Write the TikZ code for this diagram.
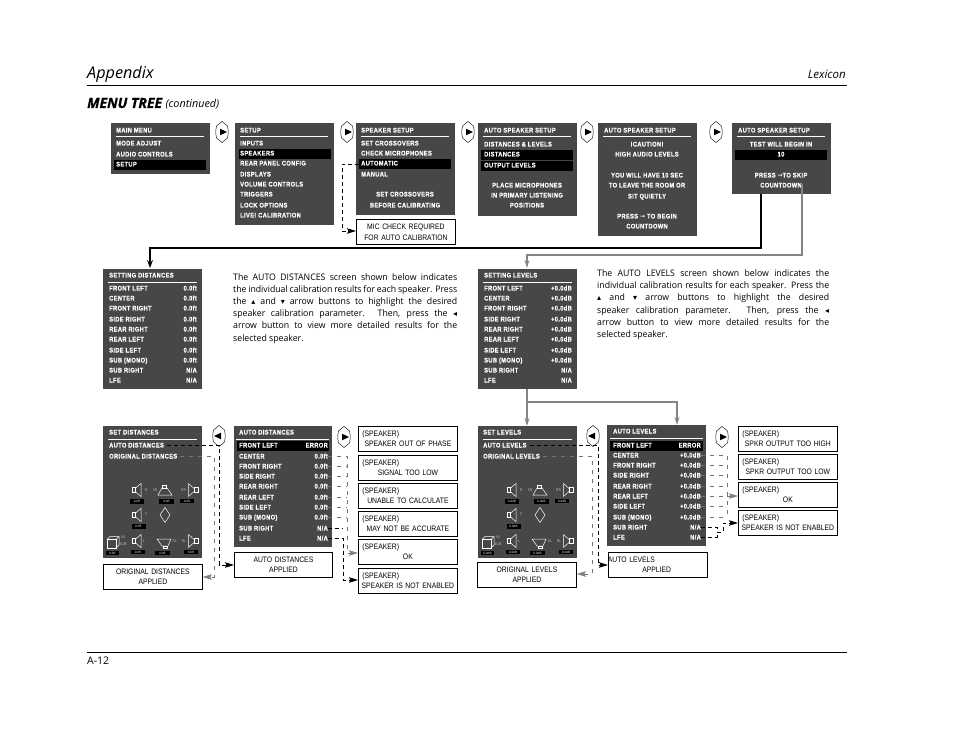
\documentclass[tikz,border=0pt]{standalone}
\usepackage{fontspec}
\usetikzlibrary{
	arrows.meta,
	positioning,
	calc
}
\setmainfont{Open Sans}
\newfontfamily\bodyfam[FakeStretch=0.97]{Open Sans}
\newfontfamily\menufam[FakeStretch=0.86,LetterSpace=5.0,FakeBold=0.35]{Liberation Sans Bold}
\newfontfamily\boxfam[FakeStretch=0.86]{Liberation Sans}
\newfontfamily\headfam[FakeBold=0.8]{Open Sans Bold Italic}
\newfontfamily\symfam{DejaVu Sans}
\newcommand{\upk}{{\symfam\fontsize{8}{8}\selectfont ▴}}
\newcommand{\dnk}{{\symfam\fontsize{8}{8}\selectfont ▾}}
\newcommand{\ltk}{{\symfam\fontsize{8}{8}\selectfont ◂}}
\newcommand{\rtk}{{\symfam\bfseries\fontsize{6}{6}\selectfont →}}
\newcommand{\spkmsg}[1]{(SPEAKER)\\\makebox[91pt]{#1}}
\hyphenpenalty=10000

\begin{document}
\begin{tikzpicture}[
			x=1pt, y=-1pt,
			>=Stealth,
			panel/.style={fill=black!72, anchor=north west, inner sep=0pt, minimum width=99pt},
			hl/.style={fill=black, anchor=north west, inner sep=0pt, minimum width=92pt, minimum height=10pt},
			mtxt/.style={font=\menufam\fontsize{6.7}{7}\selectfont, text=white, inner sep=0pt, text height=5pt, text depth=0pt},
			ml/.style={mtxt, anchor=west},
			mr/.style={mtxt, anchor=east},
			mc/.style={mtxt, anchor=center},
			rule/.style={draw=white, line width=0.8pt},
			msgbox/.style={draw, line width=0.8pt, fill=white, anchor=north west, inner sep=0pt, minimum width=99pt, minimum height=24.5pt},
			msgl/.style={msgbox, font=\boxfam\fontsize{7.9}{10.8}\selectfont, align=left, text width=91pt},
			msgc/.style={msgbox, font=\boxfam\fontsize{7.9}{10.8}\selectfont, align=center, text width=95pt},
			fl/.style={->, line width=1.1pt},
			flg/.style={line width=1.1pt, draw=black!48, -{Stealth[length=8pt,width=5pt,black!48]}},
			dk/.style={line width=0.9pt, dash pattern=on 4pt off 3pt},
			dkt/.style={dk, -{Stealth[length=9pt,width=5.5pt,inset=1.5pt]}},
			dg/.style={line width=0.6pt, draw=black!55, dash pattern=on 4pt off 5pt},
			dgt/.style={dg, -{Stealth[length=9pt,width=5.5pt,inset=1.5pt,black!50]}},
			spkbar/.style={fill=black, text=white, inner sep=0pt, minimum height=4.5pt, font=\fontsize{3}{3}\selectfont},
			spktag/.style={text=black!25, inner sep=0pt, font=\fontsize{3.8}{3.8}\selectfont},
			body/.style={anchor=north west, inner sep=0pt, align=justify, font=\bodyfam\fontsize{9}{12.2}\selectfont},
			btn/.pic={
				\draw[line width=0.4pt] (0,-10.5) -- (5.5,-6) .. controls (6.5,0) .. (5.5,6) -- (0,10.5) -- (-5.5,6) .. controls (-6.5,0) .. (-5.5,-6) -- cycle;
				\fill (-2,-3.3) -- (5,0) -- (-2,3.3) -- cycle;
			},
			spkset/.pic={
				\begin{scope}[draw=white, line width=0.5pt]
				\foreach \sy in {64,89,115} {
					\draw (29.5,\sy-2.5) rectangle (32,\sy+2.5);
					\draw (32,\sy-1.5) -- (38,\sy-6.5) -- (38,\sy+6.5) -- (32,\sy+1.5);
				}
				\foreach \sy in {64,115} {
					\draw (91,\sy-1.5) -- (85.5,\sy-6.5) -- (85.5,\sy+6.5) -- (91,\sy+1.5);
					\draw (91,\sy-2.5) rectangle (95,\sy+2.5);
				}
				\draw (55,69) -- (69,69) -- (64,62) -- (59,62) -- cycle;
				\draw (59.5,59) rectangle (63.5,62);
				\draw (54,113) -- (68,113) -- (65,120) -- (59,120) -- cycle;
				\draw (60,120) rectangle (64,122);
				\draw (62,81.5) -- (67,89) -- (62,96.5) -- (57,89) -- cycle;
				\draw (4,113.5) rectangle (13,122);
				\draw (4,113.5) -- (7,110.5) -- (16,110.5) -- (16,119) -- (13,122);
				\draw (13,113.5) -- (16,110.5);
				\end{scope}
				\foreach \bx/\by/\bw [count=\i] in {34/75.5/14, 63.5/75.5/15, 84/75/14, 35.5/100.5/14, 35/126/14, 59.5/127/15, 88/126/14, 9.5/127/13} {
					\node[spkbar, minimum width=\bw pt] (bar\i) at (\bx,\by) {#1};
				}
				\foreach \tx/\ty/\tl [count=\i] in {43/64/R, 52/64/SR, 80.5/64/RR, 43/88/C, 41/115/L, 72/115/SL, 81/115/RL, 20/111/M, 20/118/SUB} {
					\node[spktag] (tag\i) at (\tx,\ty) {\tl};
				}
			}
		]
	\useasboundingbox (0,0) rectangle (954,738);

	% page head and foot
	\node[anchor=base west, inner sep=0pt, font=\itshape\fontsize{16.2}{18}\selectfont] (head) at (87,79) {Appendix};
	\node[anchor=base east, inner sep=0pt, font=\itshape\fontsize{11.5}{13}\selectfont] (lex) at (846,79) {Lexicon};
	\draw[line width=0.7pt] (87,85) -- (847,85);
	\node[anchor=base west, inner sep=0pt, font=\headfam\fontsize{14}{15}\selectfont] (tree) at (87,108) {MENU TREE};
	\node[right=3pt of tree.base east, anchor=base west, inner sep=0pt, font=\itshape\fontsize{10.8}{12}\selectfont] (cont) {(continued)};
	\draw[line width=0.7pt] (87,652) -- (847,652);
	\node[anchor=base west, inner sep=0pt, font=\fontsize{10.5}{12}\selectfont] (page) at (87,664) {A-12};

	% first row of screens
	\node[panel, minimum height=51pt] (mm) at (111,123) {};
	\node[panel, minimum height=102pt] (su) at (235,123) {};
	\node[panel, minimum height=92pt] (ss) at (356,123) {};
	\node[panel, minimum height=93pt] (as1) at (478,123) {};
	\node[panel, minimum height=113pt] (as2) at (598,123) {};
	\node[panel, minimum height=71pt] (as3) at (732,123) {};
	\foreach \p in {mm,su,ss,as1,as2,as3} {
		\draw[rule] ([xshift=5pt,yshift=-13.5pt]\p.north west) -- ([xshift=-6pt,yshift=-13.5pt]\p.north east);
	}
	\pic (b1) at (222,132) {btn};
	\pic (b2) at (347,132) {btn};
	\pic (b3) at (468,132) {btn};
	\pic (b4) at (587,132) {btn};
	\pic (b5) at (716,132) {btn};

	\node[hl] (h1) at (114,160) {};
	\node[hl] (h2) at (239,149) {};
	\node[hl] (h3) at (359,159) {};
	\node[hl] (h4) at (481,150) {};
	\node[hl, minimum height=9.5pt] (h5) at (481,161) {};
	\node[hl] (h6) at (735,150) {};

	\foreach \t/\y [count=\i] in {MAIN MENU/130, MODE ADJUST/143, AUDIO CONTROLS/154, SETUP/164} {
		\node[ml] (mm\i) at (116,\y) {\t};
	}
	\foreach \t/\y [count=\i] in {SETUP/130, INPUTS/143, SPEAKERS/153, REAR PANEL CONFIG/163, DISPLAYS/174, VOLUME CONTROLS/184, TRIGGERS/194, LOCK OPTIONS/205, LIVE! CALIBRATION/215} {
		\node[ml] (su\i) at (240,\y) {\t};
	}
	\foreach \t/\y [count=\i] in {SPEAKER SETUP/130, SET CROSSOVERS/143, CHECK MICROPHONES/153, AUTOMATIC/163, MANUAL/174} {
		\node[ml] (ss\i) at (361,\y) {\t};
	}
	\node[mc] (ss6) at (405,194) {SET CROSSOVERS};
	\node[mc] (ss7) at (405,205) {BEFORE CALIBRATING};
	\foreach \t/\y [count=\i] in {AUTO SPEAKER SETUP/130, DISTANCES \& LEVELS/144, DISTANCES/154, OUTPUT LEVELS/165} {
		\node[ml] (asa\i) at (484,\y) {\t};
	}
	\foreach \t/\y [count=\i] in {PLACE MICROPHONES/185, IN PRIMARY LISTENING/195, POSITIONS/205} {
		\node[mc] (asb\i) at (527,\y) {\t};
	}
	\node[ml] (asc0) at (604,130) {AUTO SPEAKER SETUP};
	\foreach \t/\y [count=\i] in {!CAUTION!/144, HIGH AUDIO LEVELS/154, YOU WILL HAVE 10 SEC/175, TO LEAVE THE ROOM OR/185, SIT QUIETLY/196, PRESS \rtk{} TO BEGIN/216, COUNTDOWN/226} {
		\node[mc] (asc\i) at (647,\y) {\t};
	}
	\node[ml] (asd0) at (738,130) {AUTO SPEAKER SETUP};
	\foreach \t/\y [count=\i] in {TEST WILL BEGIN IN/144, 10/154, PRESS \rtk{}TO SKIP/175, COUNTDOWN/185} {
		\node[mc] (asd\i) at (781,\y) {\t};
	}

	\node[msgc, minimum height=25pt] (mic) at (356,219) {MIC CHECK REQUIRED\\FOR AUTO CALIBRATION};
	\coordinate (micbus) at (342,231);
	\draw[dkt] (h3.west) -| (micbus) -- (micbus -| mic.west);

	% setting screens
	\node[panel, minimum height=120pt] (sd) at (103,269) {};
	\node[panel, minimum height=120pt] (sl) at (478,269) {};
	\draw[rule] ([xshift=5pt,yshift=-13pt]sd.north west) -- ([xshift=-5pt,yshift=-13pt]sd.north east);
	\draw[rule] ([xshift=5pt,yshift=-13pt]sl.north west) -- ([xshift=-5pt,yshift=-13pt]sl.north east);
	\node[ml] (sdt) at (109,275) {SETTING DISTANCES};
	\node[ml] (slt) at (484,275) {SETTING LEVELS};
	\foreach \t/\v/\w/\y [count=\i] in {FRONT LEFT/0.0ft/+0.0dB/288, CENTER/0.0ft/+0.0dB/298, FRONT RIGHT/0.0ft/+0.0dB/308, SIDE RIGHT/0.0ft/+0.0dB/319, REAR RIGHT/0.0ft/+0.0dB/329, REAR LEFT/0.0ft/+0.0dB/339, SIDE LEFT/0.0ft/+0.0dB/350, SUB (MONO)/0.0ft/+0.0dB/360, SUB RIGHT/{N/A}/{N/A}/370, LFE/{N/A}/{N/A}/380} {
		\node[ml] (sdl\i) at (109,\y) {\t};
		\node[mr] (sdv\i) at (197,\y) {\v};
		\node[ml] (sll\i) at (484,\y) {\t};
		\node[mr] (slv\i) at (572,\y) {\w};
	}

	% connectors out of the countdown screen
	\coordinate (as3a) at (761,194);
	\coordinate (as3b) at (802,184);
	\coordinate (dsbus) at (150,248);
	\coordinate (lvbus) at (527,255);
	\draw[flg] (as3b) |- (lvbus) -- ([yshift=1pt]lvbus |- sl.north);
	\draw[fl] (as3a) |- (dsbus) -- ([yshift=1pt]dsbus |- sd.north);

	% explanatory text
	\node[body, text width=224pt] (txa) at (233,273) {The AUTO DISTANCES screen shown below indicates\linebreak the individual calibration results for each speaker. Press\linebreak the \upk{} and \dnk{} arrow buttons to highlight the desired\linebreak speaker calibration parameter. Then, press the \ltk\linebreak arrow button to view more detailed results for the\linebreak selected speaker.};
	\node[body, text width=232pt] (txb) at (597,269.5) {The AUTO LEVELS screen shown below indicates the\linebreak individual calibration results for each speaker. Press the\linebreak \upk{} and \dnk{} arrow buttons to highlight the desired\linebreak speaker calibration parameter. Then, press the \ltk\linebreak arrow button to view more detailed results for the\linebreak selected speaker.};

	% lower screens
	\node[panel, minimum height=132pt] (dset) at (103,426) {};
	\node[panel, minimum height=121pt, minimum width=98pt] (dauto) at (234,426) {};
	\node[panel, minimum height=132pt] (lset) at (478,426) {};
	\node[panel, minimum height=121pt] (lauto) at (607,425) {};
	\draw[rule] ([xshift=5pt,yshift=-13pt]dset.north west) -- ([xshift=-5pt,yshift=-13pt]dset.north east);
	\draw[rule] ([xshift=2pt,yshift=-13pt]dauto.north west) -- ([xshift=-3pt,yshift=-13pt]dauto.north east);
	\draw[rule] ([xshift=5pt,yshift=-13pt]lset.north west) -- ([xshift=-5pt,yshift=-13pt]lset.north east);
	\draw[rule] ([xshift=3pt,yshift=-13pt]lauto.north west) -- ([xshift=-3pt,yshift=-13pt]lauto.north east);
	\pic (bd1) [xscale=-1] at (219,436) {btn};
	\pic (bd2) at (344,437) {btn};
	\pic (bl1) [xscale=-1] at (593,436) {btn};
	\pic (bl2) at (722,437) {btn};

	\node[ml] (dset0) at (109,432) {SET DISTANCES};
	\node[ml] (dset1) at (109,445) {AUTO DISTANCES};
	\node[ml] (dset2) at (109,456) {ORIGINAL DISTANCES};
	\node[ml] (lset0) at (483,432) {SET LEVELS};
	\node[ml] (lset1) at (483,445) {AUTO LEVELS};
	\node[ml] (lset2) at (483,456) {ORIGINAL LEVELS};
	\pic (dspk) at (103,426) {spkset=0.0ft};
	\pic (lspk) at (478,426) {spkset=0.0dB};

	\node[hl] (h7) at (237,441) {};
	\node[hl, minimum width=93pt] (h8) at (610,441) {};
	\node[ml] (da0) at (239,432) {AUTO DISTANCES};
	\node[ml] (la0) at (613,431) {AUTO LEVELS};
	\foreach \t/\v/\w/\y/\z [count=\i] in {FRONT LEFT/ERROR/ERROR/445/445, CENTER/0.0ft/+0.0dB/456/455, FRONT RIGHT/0.0ft/+0.0dB/466/465, SIDE RIGHT/0.0ft/+0.0dB/476/475, REAR RIGHT/0.0ft/+0.0dB/486/486, REAR LEFT/0.0ft/+0.0dB/497/496, SIDE LEFT/0.0ft/+0.0dB/507/506, SUB (MONO)/0.0ft/+0.0dB/517/517, SUB RIGHT/{N/A}/{N/A}/528/527, LFE/{N/A}/{N/A}/538/537} {
		\node[ml] (dal\i) at (239,\y) {\t};
		\node[mr] (dav\i) at (328,\y) {\v};
		\node[ml] (lal\i) at (613,\z) {\t};
		\node[mr] (lav\i) at (701,\z) {\w};
	}

	% result boxes
	\node[msgc] (oda) at (103,564) {ORIGINAL DISTANCES\\APPLIED};
	\node[msgc, minimum width=98pt] (ada) at (234,552) {AUTO DISTANCES\\APPLIED};
	\node[msgc] (ola) at (477,562) {ORIGINAL LEVELS\\APPLIED};
	\node[msgl, text width=97pt, minimum width=99pt, align=left] (ala) at (608,552) {\hspace*{-1.5pt}AUTO LEVELS\\\hspace*{33pt}APPLIED};

	\node[msgl] (sp1) at (358,426) {\spkmsg{SPEAKER OUT OF PHASE}};
	\node[msgl] (sp2) at (358,455) {\spkmsg{SIGNAL TOO LOW}};
	\node[msgl] (sp3) at (358,483) {\spkmsg{UNABLE TO CALCULATE}};
	\node[msgl] (sp4) at (358,511) {\spkmsg{MAY NOT BE ACCURATE}};
	\node[msgl] (sp5) at (358,539) {\spkmsg{OK}};
	\node[msgl] (sp6) at (358,568) {\spkmsg{SPEAKER IS NOT ENABLED}};
	\node[msgl] (sq1) at (738,426) {\spkmsg{SPKR OUTPUT TOO HIGH}};
	\node[msgl] (sq2) at (738,454) {\spkmsg{SPKR OUTPUT TOO LOW}};
	\node[msgl] (sq3) at (738,482) {\spkmsg{OK}};
	\node[msgl] (sq4) at (738,510) {\spkmsg{SPEAKER IS NOT ENABLED}};

	% grey arrows to the level screens
	\coordinate (lsplit) at (527,402);
	\coordinate (lsplitb) at (677,402);
	\draw[flg] (sl.south -| lsplit) -- (lset.north -| lsplit);
	\draw[flg] (lsplit) -- (lsplitb) -- (lauto.north -| lsplitb);

	% dashed result lines, distances
	\coordinate (dbusa) at (219,565);
	\coordinate (dbusb) at (214,577);
	\draw[dkt] ([xshift=3pt]dset1.east) -| (dbusa) -- (dbusa -| ada.west);
	\draw[dgt] ([xshift=3pt]dset2.east) -| (dbusb) -- (dbusb -| oda.east);
	\coordinate (dbusc) at (347,553);
	\coordinate (dbusd) at (343,580);
	\foreach \i in {3,...,8} {
		\draw[dg] (dav\i.east) -- (dav\i.east -| dbusc);
	}
	\draw[dgt] (dav2.east) -| (dbusc) -- (dbusc -| sp5.west);
	\draw[dk] (dav9.east) -- (dav9.east -| dbusd);
	\draw[dkt] (dav10.east) -| (dbusd) -- (dbusd -| sp6.west);

	% dashed result lines, levels
	\coordinate (lbusa) at (598,565);
	\coordinate (lbusb) at (592,574);
	\draw[dkt] ([xshift=3pt]lset1.east) -| (lbusa) -- (lbusa -| ala.west);
	\draw[dgt] ([xshift=3pt]lset2.east) -| (lbusb) -- (lbusb -| ola.east);
	\coordinate (lbusc) at (727,496);
	\coordinate (lbusd) at (717,532);
	\coordinate (lbuse) at (723,523);
	\foreach \i in {3,...,8} {
		\draw[dg] (lav\i.east) -- (lav\i.east -| lbusc);
	}
	\draw[dg] (lav2.east) -| (lav8.east -| lbusc);
	\draw[dgt] (lbusc) -- (lbusc -| sq3.west);
	\draw[dk] (lav9.east) -| (lbusd);
	\draw[dk] (lav10.east) -| (lbusd);
	\draw[dkt] (lbusd) -| (lbuse) -- (lbuse -| sq4.west);
\end{tikzpicture}
\end{document}
